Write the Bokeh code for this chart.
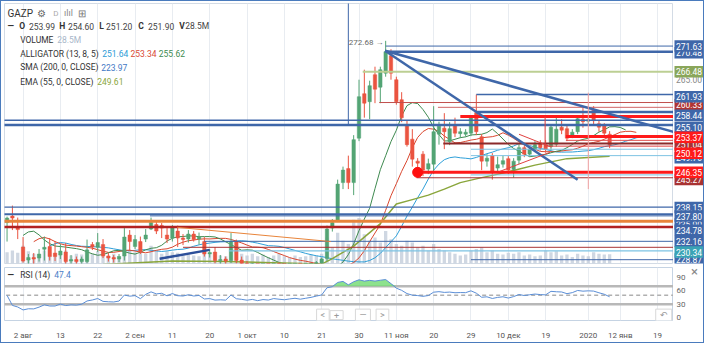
import numpy as np
from bokeh.plotting import figure
from bokeh.models import Range1d, FixedTicker, Label, ColumnDataSource
from bokeh.layouts import column, row
from bokeh.embed import file_html
from bokeh.resources import INLINE
from bokeh.core.properties import value

# ---------------- data ----------------
bar_index = list(range(-3, 111))

opens = [236.3, 237.6, 235.2,
         231.4, 228.8, 229.3, 229.2, 230.97, 231.5, 230.2, 229.8, 230.4, 228.6,
         228.9, 228.5, 228.5, 231.9, 231.35, 231.9, 229.6, 229.3, 229.0, 229.6,
         233.8, 231.5, 232.5, 233.0, 235.0, 235.9, 235.7, 233.8, 233.2, 234.6,
         233.2, 233.0, 234.0, 233.0, 232.5, 230.0, 230.4, 228.7, 229.0, 228.7,
         232.5, 228.8, 228.0, 227.0, 227.6, 226.2, 227.0, 226.5, 227.5, 226.9,
         226.4, 226.9, 227.3, 226.6, 227.1, 227.6, 228.2, 229.1, 235.2, 236.7,
         244.3, 247.1, 244.3, 253.2, 262.1, 260.5, 265.9, 263.4, 266.2, 269.7,
         264.9, 260.9, 255.8, 253.0, 248.6, 250.0, 247.0, 248.0, 254.0, 255.2,
         252.5, 255.75, 254.1, 254.0, 254.2, 258.3, 253.5, 248.6, 249.7, 247.2,
         248.0, 249.1, 246.9, 248.8, 251.3, 250.0, 251.0, 252.2, 251.9, 251.5,
         252.0, 255.4, 255.1, 253.8, 254.5, 257.0, 256.6, 258.8, 256.1, 255.75, 253.99]
highs = [237.5, 239.7, 237.3,
         233.4, 230.0, 230.2, 231.0, 233.5, 233.2, 232.6, 232.0, 232.2, 229.8,
         229.5, 229.5, 232.9, 232.4, 234.2, 233.0, 230.2, 229.8, 230.0, 235.2,
         234.8, 233.8, 233.5, 235.0, 237.3, 236.6, 236.2, 235.2, 235.8, 235.7,
         234.0, 234.8, 234.6, 234.3, 233.4, 231.0, 231.4, 229.8, 229.5, 234.2,
         232.9, 229.5, 228.6, 228.2, 228.0, 227.4, 227.8, 227.9, 228.3, 227.6,
         227.2, 227.8, 227.7, 227.4, 228.0, 228.6, 229.3, 235.7, 237.0, 244.9,
         247.5, 249.7, 253.8, 264.9, 266.9, 264.7, 267.5, 267.5, 272.68, 271.0,
         265.5, 262.4, 256.7, 255.0, 249.2, 250.6, 249.1, 259.6, 256.5, 258.2,
         256.4, 257.3, 255.2, 255.0, 257.7, 261.93, 254.0, 250.0, 250.2, 249.5,
         249.7, 249.6, 249.2, 252.2, 251.8, 251.6, 252.6, 252.8, 252.8, 256.0,
         257.3, 257.0, 255.8, 255.0, 257.6, 259.3, 257.6, 259.6, 256.8, 256.2, 254.60]
lows = [232.5, 234.8, 233.0,
        228.3, 227.6, 227.9, 228.5, 228.7, 228.7, 228.6, 229.0, 227.8, 227.5,
        227.6, 227.7, 228.1, 230.8, 230.4, 229.2, 228.5, 228.3, 228.4, 228.7,
        230.6, 231.0, 230.0, 232.4, 234.8, 234.0, 233.2, 232.2, 232.5, 231.4,
        231.8, 232.3, 232.5, 231.9, 229.5, 229.3, 228.1, 227.8, 227.8, 228.2,
        228.1, 227.5, 226.5, 226.3, 225.8, 225.5, 226.0, 226.0, 226.6, 225.9,
        225.6, 226.2, 226.1, 225.9, 226.5, 227.1, 227.5, 228.6, 234.5, 236.4,
        243.0, 243.0, 241.8, 252.6, 257.3, 257.0, 260.2, 260.2, 265.5, 264.9,
        259.9, 256.4, 251.5, 247.5, 245.3, 245.6, 246.0, 246.0, 251.9, 251.0,
        251.8, 253.4, 253.2, 253.5, 253.6, 253.8, 246.8, 247.5, 244.9, 246.3,
        247.3, 246.0, 245.3, 248.0, 249.4, 249.5, 250.5, 250.7, 250.3, 250.8,
        251.5, 254.0, 252.6, 253.2, 254.0, 255.3, 255.8, 256.0, 254.5, 253.2, 251.20]
closes = [237.2, 237.2, 234.9,
          228.6, 229.3, 229.0, 230.0, 231.35, 229.5, 229.5, 230.6, 228.5, 228.9,
          228.5, 229.0, 230.8, 231.4, 232.3, 229.6, 229.2, 229.0, 229.5, 233.4,
          232.5, 232.9, 230.4, 233.8, 236.3, 234.6, 235.2, 233.0, 235.2, 233.2,
          232.9, 234.0, 232.9, 233.4, 230.0, 230.3, 228.7, 228.9, 228.6, 232.5,
          228.7, 228.0, 227.0, 227.6, 226.2, 227.0, 226.5, 227.5, 226.9, 226.4,
          226.9, 227.3, 226.6, 227.1, 227.6, 228.3, 229.0, 235.0, 236.3, 244.0,
          246.8, 244.3, 252.9, 261.5, 260.2, 263.7, 263.0, 266.9, 270.5, 266.2,
          260.5, 257.3, 251.9, 249.0, 248.2, 246.8, 248.1, 254.5, 255.6, 254.5,
          255.1, 254.2, 254.5, 254.4, 257.3, 254.5, 248.6, 249.2, 246.5, 247.9,
          248.7, 246.8, 248.6, 251.3, 250.0, 251.0, 251.9, 251.3, 251.0, 255.4,
          255.0, 254.8, 253.2, 254.4, 257.1, 256.5, 256.9, 256.7, 255.4, 254.2, 251.90]
volumes_m = [35, 40, 33,
             55, 38, 30, 28, 40, 35, 30, 28, 40, 25,
             30, 28, 45, 30, 38, 40, 25, 30, 22, 60,
             40, 35, 35, 30, 55, 40, 30, 38, 35, 33,
             25, 28, 25, 22, 38, 28, 35, 25, 22, 45,
             40, 30, 25, 30, 22, 28, 20, 25, 30, 22,
             18, 25, 20, 22, 28, 25, 30, 80, 50, 95,
             70, 60, 135, 140, 90, 70, 80, 65, 100, 75,
             60, 55, 70, 65, 50, 55, 40, 60, 45, 40,
             35, 30, 25, 28, 40, 45, 50, 35, 40, 30,
             28, 33, 30, 35, 25, 28, 22, 25, 40, 35,
             38, 25, 28, 20, 30, 25, 22, 35, 30, 28, 28.5]

date_ticks = [0, 7, 14, 21, 28, 35, 42, 49, 56, 63, 70, 77, 84, 91, 98, 106, 112, 119]
date_labels = ["2 авг", "13", "22", "2 сен", "11", "20", "1 окт", "10", "21", "30",
               "11 ноя", "20", "29", "10 дек", "19", "2020", "12 янв", "19"]

ema_index = [-3, 15, 28, 38, 56, 58, 62, 67, 70, 73, 76, 79, 82, 86, 90, 96, 102, 110]
ema_values = [227.2, 227.9, 228.6, 228.5, 228.0, 229.1, 231.6, 236.1, 240.0, 240.9,
              241.8, 243.0, 244.3, 245.3, 246.2, 247.8, 249.1, 249.6]

# horizontal drawing lines: price, first bar
hline_price = [271.63, 270.48, 266.48, 261.93, 260.33, 259.37, 258.44, 257.52, 256.8, 255.85,
               253.52, 252.76, 252.13, 251.6, 250.98, 249.7, 246.35, 245.84, 245.27,
               239.4, 237.97, 237.64, 236.55, 235.41, 232.55, 231.35, 230.65, 228.87]
hline_start = [68, 68, 63.7, 85, 66.8, 77.8, 85, 82, -4, -4,
               101.8, 101.8, 78.8, 97.9, 84, 84, 74, 84, 73.8,
               -4, -4, 23.8, -4, -4, 34, 30, 38.6, 84]
hline_color = ["#3f67a9", "#3f67a9", "#bccf93", "#3f67a9", "#c0504d", "#d06464", "#3f67a9", "#ff1a1a", "#3f67a9", "#3f67a9",
               "#ff1a1a", "#e05050", "#8b2a2a", "#e04040", "#7dc3e3", "#7dc3e3", "#ff1a1a", "#7dc3e3", "#a83232",
               "#3f67a9", "#3f67a9", "#3f67a9", "#e8843a", "#b22222", "#3f67a9", "#a83232", "#7dc3e3", "#3f67a9"]
hline_width = [1, 2.5, 2, 1.5, 1, 1, 2.5, 3, 1.5, 2.5,
               3, 1, 2, 1, 1, 1, 3, 1, 1.2,
               1.2, 2, 1, 3, 2.5, 1, 1, 1.2, 1]

# trend / diagonal lines
trend_x0 = [67.9, 67.9, 28.9, 25.6, 93.0, 89.4, 61.0, 97.9, 106.0]
trend_y0 = [270.68, 270.68, 235.35, 229.06, 253.98, 246.54, 255.85, 257.52, 262.3]
trend_x1 = [122.0, 104.0, 57.7, 35.0, 99.1, 98.8, 61.0, 97.9, 106.0]
trend_y1 = [254.45, 244.88, 232.5, 230.84, 251.4, 250.36, 281.0, 251.6, 243.0]
trend_color = ["#3f67a9", "#3f67a9", "#e8843a", "#2c4f9a", "#e04040", "#e04040", "#3f67a9", "#e04040", "#f0a0a0"]
trend_width = [2.5, 2.5, 1, 2.5, 1, 1, 1, 1, 1]

marker_index = [74]
marker_price = [246.35]

# right-hand price tags (drawing order: hidden ones first)
tag_text = ["270.48", "271.63", "265.00", "266.48", "260.33", "261.93", "255.10", "258.44",
            "251.04", "249.70", "250.12", "253.37", "245.27", "246.35",
            "238.15", "235.90", "232.16", "228.87", "237.80", "234.78", "230.34"]
tag_price = [270.3, 271.63, 264.9, 266.48, 259.9, 261.5, 255.4, 257.8,
             251.9, 249.3, 250.2, 253.37, 244.9, 246.35,
             239.3, 236.0, 232.5, 229.0, 237.6, 234.78, 230.4]
tag_color = ["#3f67a9", "#3f67a9", "#ffffff", "#8aa65a", "#b03434", "#3f67a9", "#3f67a9", "#3f67a9",
             "#a83232", "#3f67a9", "#ff1a1a", "#ff1a1a", "#a83232", "#ff1a1a",
             "#3f67a9", "#3f67a9", "#3f67a9", "#3f67a9", "#3f67a9", "#3f67a9", "#3aa3b5"]
tag_text_color = ["white", "white", "#888888", "white", "white", "white", "white", "white",
                  "white", "white", "white", "white", "white", "white",
                  "white", "white", "white", "white", "white", "white", "white"]

rsi_ticks = [0, 30, 60, 90]

# ---------------- derived series ----------------
idx = np.array(bar_index, dtype=float)
O = np.array(opens); H = np.array(highs); L = np.array(lows); C = np.array(closes)
for arr in (opens, highs, lows, closes, volumes_m):
    assert len(arr) == len(bar_index)

median = (H + L) / 2.0


def smma(arr, n):
    out = np.empty_like(arr)
    s = arr[:n].mean()
    for k, v in enumerate(arr):
        s = s + (v - s) / n
        out[k] = s
    return out


jaw = smma(median, 13)
teeth = smma(median, 8)
lips = smma(median, 5)

delta = np.diff(C)
gains = np.clip(delta, 0, None)
losses = np.clip(-delta, 0, None)
ag = gains[:14].mean()
al = losses[:14].mean()
rsi = [50.0]
for g, l in zip(gains, losses):
    ag = (ag * 13 + g) / 14
    al = (al * 13 + l) / 14
    rsi.append(100 - 100 / (1 + ag / al) if al > 0 else 100)
rsi = np.array(rsi)

# ---------------- layout helpers (reference pixels -> data) ----------------
W = 702
WR = 30
H1 = 264
H2 = 77
XS, XE = (3 - 22) / 5.46, (688 - 22) / 5.46
PY0, PY1 = 228.11, 280.15
RY0, RY1 = -6.0, 112.0


def X(px):
    return (px - 22) / 5.46


def Y(py):
    return PY1 - (py - 2) / 273.0 * (PY1 - PY0)


def R(py):
    return RY1 - (py - 279) / 59.0 * (RY1 - RY0)


FONT = "Roboto"
x_range = Range1d(XS, XE)
y_range = Range1d(PY0, PY1)
r_range = Range1d(RY0, RY1)

# ---------------- main price panel ----------------
p = figure(width=W - WR, height=H1, x_range=x_range, y_range=y_range,
           output_backend="svg", toolbar_location=None,
           x_axis_location=None, y_axis_location=None,
           min_border_left=3, min_border_right=0, min_border_top=2, min_border_bottom=2)
p.extra_y_ranges = {"vol": Range1d(0, 800)}
p.background_fill_color = "white"
p.border_fill_color = "white"
p.outline_line_color = "#d3dbe5"
p.xgrid.ticker = FixedTicker(ticks=date_ticks)
p.xgrid.grid_line_color = "#e8ecf1"
p.ygrid.grid_line_color = None

# volume
p.vbar(x=bar_index, top=volumes_m, width=0.62, bottom=0, y_range_name="vol",
       fill_color="#c3cddb", line_color=None, fill_alpha=0.8)

# moving averages / alligator
p.line(idx + 8, jaw, line_color="#2e9fd8", line_width=1)
p.line(idx + 5, teeth, line_color="#d9472f", line_width=1)
p.line(idx + 3, lips, line_color="#3f8a50", line_width=1)
p.line(ema_index, ema_values, line_color="#8aa63c", line_width=1.5)

# candles
up = C >= O
col = np.where(up, "#53a474", "#ea5440")
body_top = np.maximum(O, C)
body_bot = np.minimum(O, C)
body_bot = np.where(body_top - body_bot < 0.15, body_top - 0.15, body_bot)
cs = ColumnDataSource(dict(x=idx, h=H, l=L, top=body_top, bot=body_bot, c=col))
p.segment(x0="x", y0="l", x1="x", y1="h", color="c", line_width=1, source=cs)
p.vbar(x="x", top="top", bottom="bot", width=0.64, fill_color="c", line_color="c", line_width=0.5, source=cs)

# horizontal drawings
hs = ColumnDataSource(dict(x0=hline_start, x1=[XE + 1] * len(hline_start), y=hline_price,
                           c=hline_color, w=hline_width))
p.segment(x0="x0", y0="y", x1="x1", y1="y", line_color="c", line_width="w", source=hs)
ts = ColumnDataSource(dict(x0=trend_x0, y0=trend_y0, x1=trend_x1, y1=trend_y1, c=trend_color, w=trend_width))
p.segment(x0="x0", y0="y0", x1="x1", y1="y1", line_color="c", line_width="w", source=ts)
p.scatter(marker_index, marker_price, size=10, color="#ff1010")


def add_label(fig, text, x, y, color="#333333", size="8.5px", bold=False, align="left",
              bg=None, border=None, padding=None):
    lab = Label(x=x, y=y, text=text, text_color=color, text_font_size=size, text_font=FONT,
                text_font_style="bold" if bold else "normal", text_align=align, text_baseline="middle")
    if bg is not None:
        lab.background_fill_color = bg
        lab.background_fill_alpha = 1.0
    if border is not None:
        lab.border_line_color = border
    if padding is not None:
        lab.padding = padding
    fig.add_layout(lab)
    return lab


# peak annotation
add_label(p, "272.68 →", X(391), Y(42.5), color="#666666", size="8px", align="right")

# legend block
add_label(p, "GAZP", X(6), Y(12), color="#333333", size="10px")
add_label(p, "⚙", X(36), Y(12), color="#666666", size="10px")
add_label(p, "D", X(53), Y(12.5), color="#aaaaaa", size="8px")
add_label(p, "ılıl", X(64), Y(12), color="#888888", size="9px")
add_label(p, "⊞", X(78), Y(12), color="#777777", size="10px")

add_label(p, "—", X(6), Y(26), bold=True)
row2 = [("O", 18, True), ("253.99", 28, False), ("H", 59, True), ("254.60", 68, False),
        ("L", 100, True), ("251.20", 107, False), ("C", 140, True), ("251.90", 150, False),
        ("V", 182, True), ("28.5M", 188, False)]
for t, px, b in row2:
    add_label(p, t, X(px), Y(26), color="#333333" if b else "#444444", bold=b)

add_label(p, "VOLUME", X(19), Y(40))
add_label(p, "28.5M", X(57), Y(40), color="#a9b7c9")
add_label(p, "ALLIGATOR (13, 8, 5)", X(19), Y(55))
add_label(p, "251.64", X(103), Y(55), color="#2e9bd6")
add_label(p, "253.34", X(132), Y(55), color="#d94a35")
add_label(p, "255.62", X(161), Y(55), color="#3d8a50")
add_label(p, "SMA (200, 0, CLOSE)", X(19), Y(69))
add_label(p, "223.97", X(102), Y(69), color="#3f78c4")
add_label(p, "EMA (55, 0, CLOSE)", X(19), Y(84))
add_label(p, "249.61", X(98), Y(84), color="#8aa63c")

# ---------------- price-tag column ----------------
tg = figure(width=WR, height=H1, x_range=Range1d(0, WR), y_range=y_range,
            output_backend="svg", toolbar_location=None,
            x_axis_location=None, y_axis_location=None,
            min_border_left=0, min_border_right=0, min_border_top=2, min_border_bottom=2)
tg.outline_line_color = None
tg.grid.grid_line_color = None
tg.background_fill_color = "white"
tg.border_fill_color = "white"
tag_h = 11.5 * (PY1 - PY0) / (H1 - 4)
# each tag as its own box + text so later tags hide earlier ones
for t, pr, c, tc in zip(tag_text, tag_price, tag_color, tag_text_color):
    src = ColumnDataSource(dict(y=[pr], t=[t]))
    tg.rect(x=WR / 2 + 0.5, y="y", width=WR - 1, height=tag_h, fill_color=c, line_color=None, source=src)
    tg.text(x=WR / 2 + 0.5, y="y", text="t", text_color=tc, text_font=value(FONT), text_font_size="8.5px",
            text_baseline="middle", text_align="center", source=src)

# ---------------- RSI panel ----------------
q = figure(width=W - WR, height=H2, x_range=x_range, y_range=r_range,
           output_backend="svg", toolbar_location=None,
           x_axis_location="below", y_axis_location=None,
           min_border_left=3, min_border_right=0, min_border_top=2, min_border_bottom=19)
q.background_fill_color = "white"
q.border_fill_color = "white"
q.outline_line_color = "#c5d3e3"
q.xgrid.ticker = FixedTicker(ticks=date_ticks)
q.xgrid.grid_line_color = "#e8ecf1"
q.ygrid.grid_line_color = None

q.xaxis.ticker = FixedTicker(ticks=date_ticks)
q.xaxis.major_label_overrides = {t: s for t, s in zip(date_ticks, date_labels)}
q.xaxis.axis_line_color = None
q.xaxis.major_tick_line_color = None
q.xaxis.minor_tick_line_color = None
q.xaxis.major_label_text_font_size = "8px"
q.xaxis.major_label_text_color = "#555555"
q.xaxis.major_label_text_font = FONT
q.xaxis.major_label_standoff = 4

q.segment(x0=[XS - 1] * 2, x1=[XE + 1] * 2, y0=[70, 30], y1=[70, 30], line_color="#b8b8b8", line_width=2.5)
q.segment(x0=[XS - 1], x1=[XE + 1], y0=[50], y1=[50], line_color="#b0b0b0", line_width=1.5, line_dash="4 3")
q.varea(x=idx, y1=np.full(len(rsi), 70.0), y2=np.maximum(rsi, 70.0), fill_color="#79dd79", fill_alpha=0.85)
q.line(idx, rsi, line_color="#5b8ed6", line_width=1)

add_label(q, "—", X(6), R(287), bold=True)
add_label(q, "RSI (14)", X(19), R(287))
add_label(q, "47.4", X(54), R(287), color="#4a80c8")
for t, px in [("<", 329), ("+", 343), ("—", 370), (">", 390)]:
    add_label(q, t, X(px), R(332), color="#999999", size="9px", align="center",
              bg="white", border="#d8d8d8", padding=(4, 1))
add_label(q, "↶", X(678), R(332), color="#999999", size="9px", align="center",
          bg="white", border="#d8d8d8", padding=(4, 1))

# RSI scale column
qr = figure(width=WR, height=H2, x_range=Range1d(0, WR), y_range=r_range,
            output_backend="svg", toolbar_location=None,
            x_axis_location=None, y_axis_location=None,
            min_border_left=0, min_border_right=0, min_border_top=2, min_border_bottom=19)
qr.outline_line_color = None
qr.grid.grid_line_color = None
qr.background_fill_color = "white"
qr.border_fill_color = "white"
qr.text(x=[3] * len(rsi_ticks), y=rsi_ticks, text=[str(t) for t in rsi_ticks], text_color="#666666",
        text_font=value(FONT), text_font_size="8px", text_baseline="middle", text_align="left")
qr.text(x=[WR - 9], y=[R(283)], text=["×"], text_color="#888888", text_font=value(FONT),
        text_font_size="13px", text_baseline="middle", text_align="center")

layout = column(row(p, tg, spacing=0), row(q, qr, spacing=0), spacing=0,
                styles={"border": "1px solid #4a7bbd"})
open("out.html", "w").write(file_html(layout, INLINE))
